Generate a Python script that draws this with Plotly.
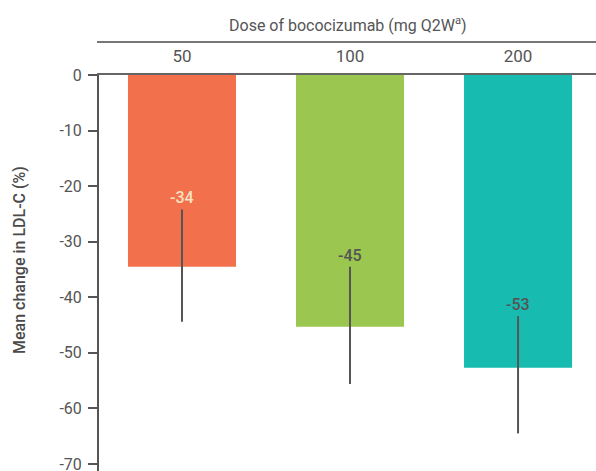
import plotly.graph_objects as go

doses = ["50", "100", "200"]
mean_change = [-34.5, -45.3, -52.7]
err_upper = [-24.2, -34.5, -43.4]
err_lower = [-44.4, -55.6, -64.5]
value_labels = ["-34", "-45", "-53"]
bar_colors = ["#F2704B", "#9BC64F", "#17BBB0"]
label_colors = ["#F7E2C2", "#555555", "#555555"]
y_ticks = [0, -10, -20, -30, -40, -50, -60, -70]
y_tick_text = ["0", "-10", "-20", "-30", "-40", "-50", "-60", "-70"]

xs = list(range(len(doses)))
plus = [u - m for u, m in zip(err_upper, mean_change)]
minus = [m - l for m, l in zip(mean_change, err_lower)]

FONT = "Roboto, Arial, sans-serif"
GRAY = "#555555"

fig = go.Figure()
fig.add_trace(go.Bar(
    x=xs, y=mean_change, width=0.643,
    marker=dict(color=bar_colors, line=dict(width=0)),
    error_y=dict(type="data", symmetric=False, array=plus, arrayminus=minus,
                 color=GRAY, thickness=2, width=0),
    hoverinfo="skip",
))

for x, u, t, c in zip(xs, err_upper, value_labels, label_colors):
    fig.add_annotation(x=x, y=u, text=t, showarrow=False, yanchor="bottom",
                       yshift=0, font=dict(family=FONT, size=16, color=c, weight=500))

fig.add_annotation(xref="paper", yref="paper", x=0.5, y=1.0 + 50 / 396,
                   text="Dose of bococizumab (mg Q2W<sup>a</sup>)",
                   showarrow=False, xanchor="center", yanchor="middle",
                   font=dict(family=FONT, size=16, color=GRAY))
fig.add_annotation(xref="paper", yref="paper", x=(19 - 99) / 497, y=(471 - 260) / 396,
                   text="Mean change in LDL-C (%)", textangle=-90,
                   showarrow=False, xanchor="center", yanchor="middle",
                   font=dict(family=FONT, size=16, color="#4a4a4a", weight=500))
fig.add_shape(type="line", xref="paper", yref="paper", x0=-0.004, x1=1.0,
              y0=1.0 + 33 / 396, y1=1.0 + 33 / 396, line=dict(color="#777777", width=2))

fig.update_layout(
    width=596, height=471,
    margin=dict(l=99, r=0, t=75, b=0),
    paper_bgcolor="white", plot_bgcolor="white",
    showlegend=False,
    font=dict(family=FONT, color=GRAY),
    xaxis=dict(
        side="top", range=[-0.494, 2.464], tickmode="array", tickvals=xs, ticktext=doses,
        showgrid=False, zeroline=False, showline=True, linecolor="#666666", linewidth=2,
        ticks="", tickfont=dict(family=FONT, size=17, color=GRAY), ticklabelstandoff=4,
        automargin=False, fixedrange=True,
    ),
    yaxis=dict(
        range=[-71.26, 0], tickmode="array", tickvals=y_ticks, ticktext=y_tick_text,
        showgrid=False, zeroline=False, showline=True, linecolor=GRAY, linewidth=2,
        ticks="outside", ticklen=9, tickwidth=2, tickcolor=GRAY,
        tickfont=dict(family=FONT, size=16, color=GRAY), ticklabeloverflow="allow",
        ticklabelstandoff=3,
        automargin=False, fixedrange=True,
    ),
)

fig.write_html("out.html", config={"displayModeBar": False},
               post_script="document.body.style.margin='0px';")
